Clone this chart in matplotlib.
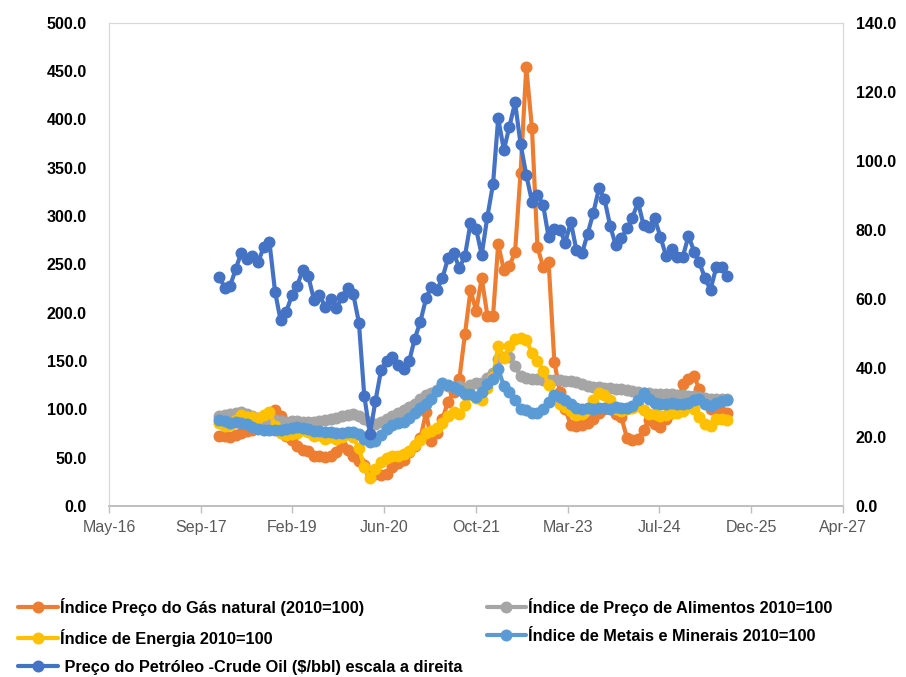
import datetime as dt
import numpy as np
import pandas as pd
import matplotlib
matplotlib.use('Agg')
import matplotlib.pyplot as plt
import matplotlib.dates as mdates
from matplotlib.ticker import FixedLocator, FuncFormatter

# monthly data, Jan 2018 - Aug 2025
months = pd.date_range('2018-01-01', periods=92, freq='MS')

gas = [72, 72, 71, 73, 76, 78, 79, 82, 80, 92, 99, 93,
       72, 68, 62, 58, 57, 52, 52, 51, 52, 56, 62, 58,
       52, 47, 42, 35, 33, 32, 33, 40, 44, 48, 56, 62,
       70, 97, 67, 75, 90, 108, 118, 131, 178, 223, 202, 236,
       197, 197, 271, 244, 248, 263, 345, 454, 391, 268, 247, 252,
       149, 118, 100, 84, 83, 84, 86, 90, 96, 100, 103, 95,
       92, 70, 68, 69, 79, 89, 85, 82, 90, 96, 103, 126,
       131, 134, 121, 108, 100, 100, 97, 96]

food = [93, 94, 95, 96, 97, 95, 93, 91, 90, 90, 89, 88,
        87, 88, 88, 87, 87, 87, 88, 89, 90, 91, 93, 94,
        95, 93, 90, 87, 85, 87, 90, 93, 96, 99, 102, 105,
        111, 115, 117, 120, 125, 124, 123, 124, 122, 125, 127, 127,
        132, 138, 152, 154, 154, 145, 134, 132, 131, 131, 130, 130,
        130, 130, 129, 129, 128, 126, 124, 123, 123, 122, 122, 121,
        121, 120, 119, 118, 117, 117, 116, 116, 116, 116, 115, 115,
        114, 114, 113, 112, 111, 111, 111, 111]

energy = [86, 83, 84, 89, 94, 92, 92, 91, 94, 97, 83, 75,
          73, 74, 75, 79, 77, 72, 73, 69, 71, 69, 71, 74,
          71, 60, 40, 29, 38, 46, 50, 52, 52, 54, 57, 63,
          68, 75, 78, 81, 86, 93, 97, 95, 104, 116, 112, 110,
          122, 133, 166, 153, 165, 173, 174, 172, 158, 150, 140, 125,
          114, 106, 102, 98, 94, 95, 100, 110, 117, 115, 110, 100,
          98, 100, 101, 103, 99, 95, 95, 93, 94, 96, 96, 98,
          104, 100, 92, 85, 83, 90, 90, 89]

metals = [89, 88, 86, 87, 86, 85, 82, 80, 79, 79, 79, 79,
          80, 81, 82, 81, 80, 78, 78, 77, 77, 76, 76, 77,
          77, 74, 69, 66, 67, 73, 80, 84, 86, 87, 91, 96,
          101, 106, 111, 119, 127, 125, 123, 120, 116, 116, 113, 118,
          126, 131, 142, 124, 118, 110, 100, 99, 96, 96, 100, 108,
          115, 113, 110, 106, 101, 100, 101, 100, 101, 101, 100, 102,
          101, 101, 103, 110, 117, 111, 107, 106, 106, 107, 106, 105,
          107, 110, 111, 105, 103, 107, 109, 110]

oil = [66.3, 63.2, 63.7, 68.7, 73.4, 71.6, 72.4, 70.7, 75.1, 76.6, 62.1, 53.8,
       56.3, 61.0, 63.7, 68.4, 66.6, 59.7, 61.1, 57.7, 60.0, 57.3, 60.6, 63.1,
       61.4, 53.1, 32.0, 20.9, 30.4, 39.4, 42.0, 43.2, 40.8, 39.7, 42.0, 48.4,
       53.4, 60.2, 63.5, 62.6, 66.0, 71.8, 73.4, 68.9, 72.5, 81.9, 80.2, 72.7,
       83.8, 93.3, 112.3, 103.1, 109.9, 116.9, 104.8, 95.9, 88.2, 90.1, 87.2, 77.8,
       80.2, 80.0, 76.3, 82.2, 74.2, 73.2, 78.8, 84.8, 92.0, 88.9, 81.2, 75.6,
       77.5, 80.4, 83.5, 88.0, 81.4, 80.9, 83.3, 78.0, 72.4, 74.4, 72.2, 72.2,
       78.2, 73.7, 70.6, 66.0, 62.6, 69.1, 69.3, 66.6]

labels = ['Índice Preço do Gás natural (2010=100)',
          'Índice de Preço de Alimentos 2010=100',
          'Índice de Energia 2010=100',
          'Índice de Metais e Minerais 2010=100',
          ' Preço do Petróleo -Crude Oil ($/bbl) escala a direita']

c_gas = '#ED7D31'
c_food = '#A5A5A5'
c_energy = '#FFC000'
c_metals = '#5B9BD5'
c_oil = '#4472C4'

plt.rcParams['font.family'] = ['Liberation Sans', 'DejaVu Sans']

fig = plt.figure(figsize=(9.06, 6.77), dpi=100)
ax = fig.add_axes([0.1203, 0.2526, 0.8102, 0.7139])
ax2 = ax.twinx()

style = dict(lw=3.0, marker='o', ms=7.6, solid_capstyle='round')
l_gas, = ax.plot(months, gas, color=c_gas, label=labels[0], **style)
l_food, = ax.plot(months, food, color=c_food, label=labels[1], **style)
l_energy, = ax.plot(months, energy, color=c_energy, label=labels[2], **style)
l_metals, = ax.plot(months, metals, color=c_metals, label=labels[3], **style)
l_oil, = ax2.plot(months, oil, color=c_oil, label=labels[4], **style)

# Excel-like date axis: major unit 500 days
x0 = dt.datetime(2016, 5, 10)
x1 = x0 + dt.timedelta(days=4000, hours=6)
ax.set_xlim(x0, x1)
xt = [mdates.date2num(x0 + dt.timedelta(days=500 * k)) for k in range(9)]
ax.xaxis.set_major_locator(FixedLocator(xt))
ax.xaxis.set_major_formatter(mdates.DateFormatter('%b-%y'))

ax.set_ylim(0, 500)
ax.set_yticks(np.arange(0, 501, 50))
ax.yaxis.set_major_formatter(FuncFormatter(lambda v, p: '%.1f' % v))
ax2.set_ylim(0, 140)
ax2.set_yticks(np.arange(0, 141, 20))
ax2.yaxis.set_major_formatter(FuncFormatter(lambda v, p: '%.1f' % v))

for a in (ax, ax2):
    for s in ('left', 'right', 'top'):
        a.spines[s].set_color('#D9D9D9')
        a.spines[s].set_linewidth(0.8)
    a.spines['bottom'].set_color('#BFBFBF')
    a.spines['bottom'].set_linewidth(1.2)

ax.tick_params(axis='x', direction='out', length=5, width=1, color='#BFBFBF',
               labelsize=11.5, labelcolor='#595959', pad=5)
ax.tick_params(axis='y', length=0, labelsize=11.5, pad=16)
ax2.tick_params(axis='y', length=0, labelsize=11.5, pad=9)
for t in ax.get_yticklabels() + ax2.get_yticklabels():
    t.set_fontweight('bold')

handles = [l_gas, l_energy, l_oil, l_food, l_metals]
leg = fig.legend(handles, [h.get_label() for h in handles], ncol=2,
                 loc='upper left', bbox_to_anchor=(0.004, 0.139),
                 frameon=False, handlelength=2.4, handletextpad=0.12,
                 columnspacing=1.5, labelspacing=0.8,
                 prop=dict(size=11.8, weight='bold'))

fig.savefig('out.png', dpi=100)
